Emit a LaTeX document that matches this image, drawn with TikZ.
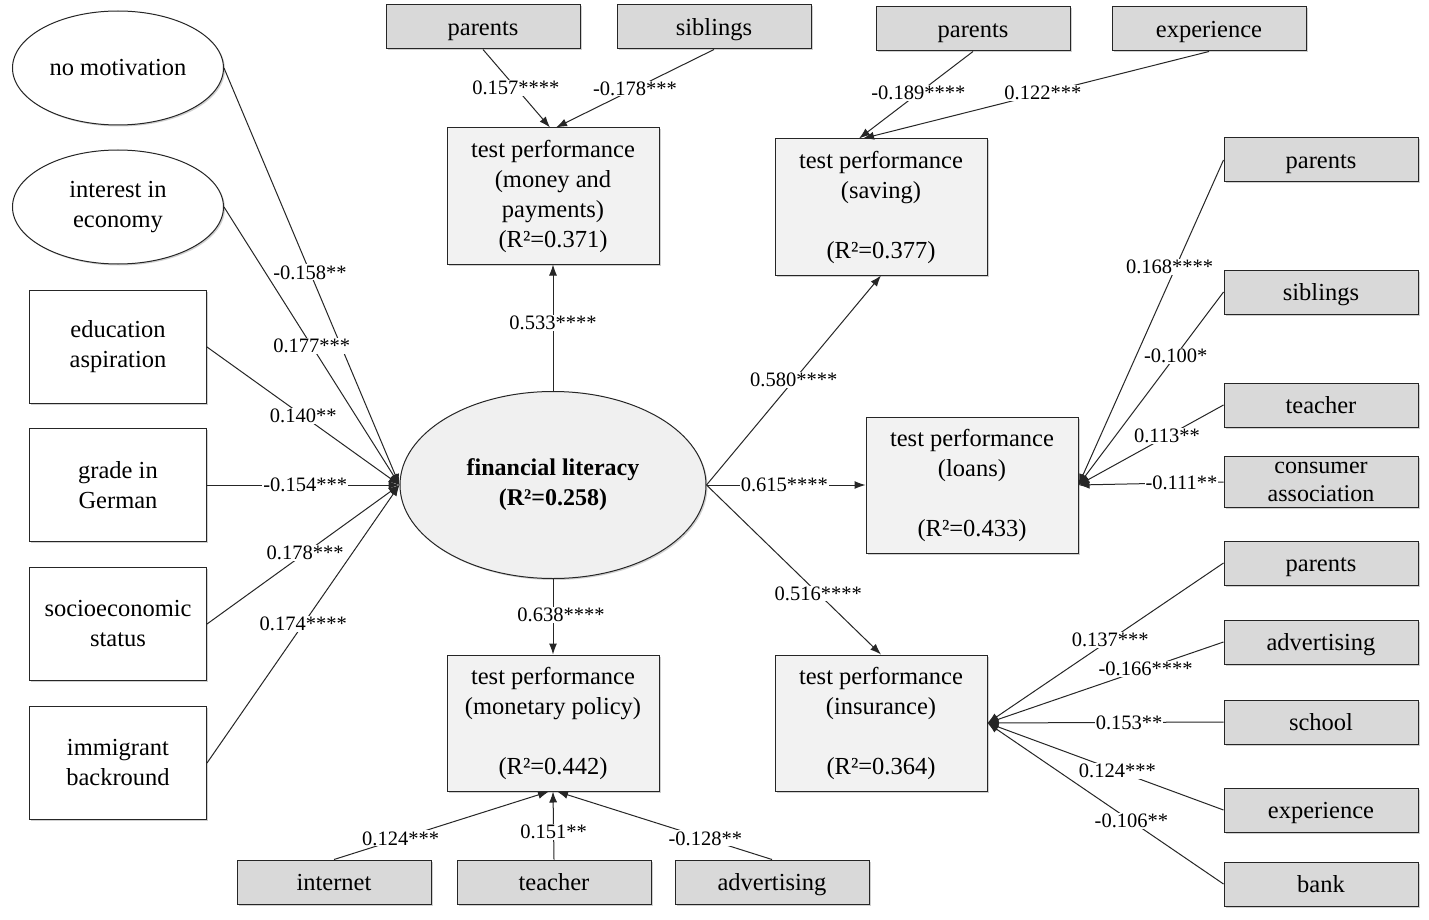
\documentclass[tikz,border=0pt]{standalone}
\usepackage{fontspec}
\setmainfont{Liberation Serif}
\usetikzlibrary{shapes.geometric,arrows.meta,shadows}
\begin{document}
\begin{tikzpicture}[x=1pt,y=-1pt,
  every node/.style={align=center},
  nfont/.style={font=\fontsize{24.5}{30}\selectfont},
  shad/.style={drop shadow={shadow xshift=1.5pt,shadow yshift=-1.5pt,opacity=0.3,fill=black!60}},
  base/.style={nfont, draw=black!85, line width=1pt, inner sep=0pt, shad},
  pbox/.style={base, rectangle, fill=black!15, minimum width=194pt, minimum height=44pt, text height=20pt, text depth=3pt},
  lbox/.style={base, rectangle, fill=white, minimum width=177pt, minimum height=113pt},
  oval/.style={base, ellipse, fill=white, minimum width=211pt, minimum height=114pt},
  tbox/.style={base, rectangle, fill=black!5, minimum width=212pt, minimum height=136pt},
  flnode/.style={base, ellipse, fill=black!6, minimum width=306pt, minimum height=187pt, font=\fontsize{24}{30}\selectfont\bfseries},
  conn/.style={draw=black!85, line width=1pt, -{Latex[length=11pt,width=8pt]}},
  lbl/.style={fill=white, inner sep=1pt, font=\fontsize{20.5}{22}\selectfont}
]
\fill[white] (0,0) rectangle (1429,920);
\useasboundingbox (0,0) rectangle (1429,920);

% left predictors
\node[oval] (nomot) at (118,68) {no motivation};
\node[oval] (inter) at (118,207) {interest in\\economy};
\node[lbox] (edu) at (118,347) {education\\aspiration};
\node[lbox] (ger) at (118,485) {grade in\\German};
\node[lbox] (ses) at (118,624) {socioeconomic\\status};
\node[lbox] (imm) at (118,763) {immigrant\\backround};

% central
\node[flnode] (fl) at (553,485) {financial literacy\\(R²=0.258)};
\node[tbox] (money) at (553,196) {test performance\\(money and\\payments)\\(R²=0.371)};
\node[tbox] (mon) at (553,723) {test performance\\(monetary policy)\\\mbox{}\\(R²=0.442)};
\node[tbox] (sav) at (881,207) {test performance\\(saving)\\\mbox{}\\(R²=0.377)};
\node[tbox] (loan) at (972,485) {test performance\\(loans)\\\mbox{}\\(R²=0.433)};
\node[tbox] (ins) at (881,723) {test performance\\(insurance)\\\mbox{}\\(R²=0.364)};

% predictor boxes
\node[pbox] (mp) at (483,27) {parents};
\node[pbox] (ms) at (714,27) {siblings};
\node[pbox] (sp) at (973,29) {parents};
\node[pbox] (se) at (1209,29) {experience};
\node[pbox] (lp) at (1321,160) {parents};
\node[pbox] (ls) at (1321,292) {siblings};
\node[pbox] (lt) at (1321,405) {teacher};
\node[base, rectangle, fill=black!15, minimum width=194pt, minimum height=51pt, font=\fontsize{24}{28}\selectfont] (lc) at (1321,482) {consumer\\association};
\node[pbox] (ip) at (1321,563) {parents};
\node[pbox] (ia) at (1321,642) {advertising};
\node[pbox] (is) at (1321,722) {school};
\node[pbox] (ie) at (1321,810) {experience};
\node[pbox] (ib) at (1321,884) {bank};
\node[pbox] (mi) at (334,882) {internet};
\node[pbox] (mt) at (554,882) {teacher};
\node[pbox] (ma) at (772,882) {advertising};

% connectors
\draw[conn] (nomot.east) -- (fl.west);
\draw[conn] (inter.east) -- (fl.west);
\draw[conn] (edu.east) -- (fl.west);
\draw[conn] (ger.east) -- (fl.west);
\draw[conn] (ses.east) -- (fl.west);
\draw[conn] (imm.east) -- (fl.west);

\draw[conn] (mp.south) -- ([xshift=-3pt]money.north);
\draw[conn] (ms.south) -- ([xshift=3pt]money.north);
\draw[conn] (fl.north) -- (money.south);
\draw[conn] (fl.south) -- (mon.north);
\draw[conn] (mi.north) -- ([xshift=-4pt]mon.south);
\draw[conn] (mt.north) -- (mon.south);
\draw[conn] (ma.north) -- ([xshift=4pt]mon.south);

\draw[conn] (sp.south) -- ([xshift=-22pt]sav.north);
\draw[conn] (se.south) -- ([xshift=-18pt]sav.north);
\draw[conn] (fl.east) -- (sav.south);
\draw[conn] (fl.east) -- (loan.west);
\draw[conn] (fl.east) -- (ins.north);

\draw[conn] (lp.west) -- (loan.east);
\draw[conn] (ls.west) -- (loan.east);
\draw[conn] (lt.west) -- (loan.east);
\draw[conn] (lc.west) -- (loan.east);

\draw[conn] (ip.west) -- (ins.east);
\draw[conn] (ia.west) -- (ins.east);
\draw[conn] (is.west) -- (ins.east);
\draw[conn] (ie.west) -- (ins.east);
\draw[conn] (ib.west) -- (ins.east);

% labels
\path (nomot.east) -- node[lbl,pos=0.49] {-0.158**} (fl.west);
\path (inter.east) -- node[lbl,pos=0.5] {0.177***} (fl.west);
\path (edu.east) -- node[lbl,pos=0.5] {0.140**} (fl.west);
\path (ger.east) -- node[lbl,pos=0.51] {-0.154***} (fl.west);
\path (ses.east) -- node[lbl,pos=0.51] {0.178***} (fl.west);
\path (imm.east) -- node[lbl,pos=0.5] {0.174****} (fl.west);

\path (mp.south) -- node[lbl,pos=0.49] {0.157****} ([xshift=-3pt]money.north);
\path (ms.south) -- node[lbl,pos=0.5] {-0.178***} ([xshift=3pt]money.north);
\path (fl.north) -- node[lbl,pos=0.54] {0.533****} (money.south);
\path (fl.south) -- node[lbl,pos=0.48,xshift=8pt] {0.638****} (mon.north);
\path (mi.north) -- node[lbl,pos=0.31] {0.124***} ([xshift=-4pt]mon.south);
\path (mt.north) -- node[lbl,pos=0.4] {0.151**} (mon.south);
\path (ma.north) -- node[lbl,pos=0.31] {-0.128**} ([xshift=4pt]mon.south);

\path (sp.south) -- node[lbl,pos=0.48] {-0.189****} ([xshift=-22pt]sav.north);
\path (se.south) -- node[lbl,pos=0.48] {0.122***} ([xshift=-18pt]sav.north);
\path (fl.east) -- node[lbl,pos=0.5] {0.580****} (sav.south);
\path (fl.east) -- node[lbl,pos=0.49] {0.615****} (loan.west);
\path (fl.east) -- node[lbl,pos=0.64] {0.516****} (ins.north);

\path (lp.west) -- node[lbl,pos=0.33,xshift=-6pt] {0.168****} (loan.east);
\path (ls.west) -- node[lbl,pos=0.33] {-0.100*} (loan.east);
\path (lt.west) -- node[lbl,pos=0.39] {0.113**} (loan.east);
\path (lc.west) -- node[lbl,pos=0.29] {-0.111**} (loan.east);

\path (ip.west) -- node[lbl,pos=0.48] {0.137***} (ins.east);
\path (ia.west) -- node[lbl,pos=0.33] {-0.166****} (ins.east);
\path (is.west) -- node[lbl,pos=0.4] {0.153**} (ins.east);
\path (ie.west) -- node[lbl,pos=0.45] {0.124***} (ins.east);
\path (ib.west) -- node[lbl,pos=0.39] {-0.106**} (ins.east);
\end{tikzpicture}
\end{document}
